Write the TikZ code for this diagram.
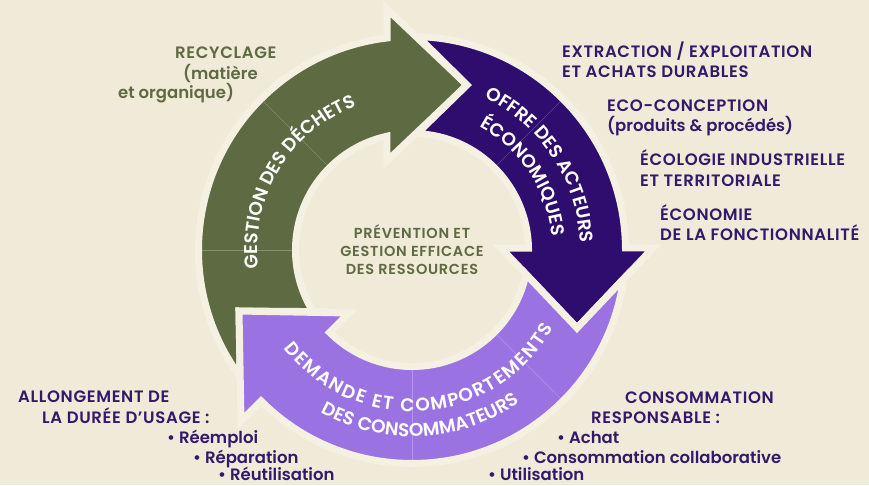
\documentclass[tikz,border=0pt]{standalone}
\usepackage{fontspec}
\setmainfont{Poppins}[BoldFont={Poppins SemiBold}]
\usetikzlibrary{decorations.text}

\definecolor{bg}{HTML}{EFEBD8}
\definecolor{gapcream}{HTML}{F4F1E2}
\definecolor{olive}{HTML}{5E6A42}
\definecolor{deeppurple}{HTML}{2E0D6E}
\definecolor{lilac}{HTML}{9B72E2}
\definecolor{inkpurple}{HTML}{33186B}

\newcommand\bandfont{\bfseries\fontsize{18.5}{18.5}\selectfont}

\tikzset{
  band/.style={draw=gapcream, line width=7pt, line join=miter},
  spoke/.style={white, opacity=.25, line width=.6pt},
  bandtext/.style={decorate, decoration={text along path, text align=center,
      text color=white, text={|\bandfont|#1}}},
  bandfit/.style={decorate, decoration={text along path, text align={fit to path},
      text color=white, text={|\bandfont|#1}}},
  labelcaps/.style={font=\bfseries\fontsize{16.5}{20}\selectfont\addfontfeature{LetterSpace=4}},
  labellow/.style={font=\bfseries\fontsize{16.5}{20}\selectfont},
}

\begin{document}
\begin{tikzpicture}[x=1pt,y=1pt]

  \fill[bg] (-412,-235) rectangle (457,250);
  \useasboundingbox (-412,-235) rectangle (457,250);

  % the three arrows of the cycle
  \filldraw[band, fill=olive] (-98.7,-61.6) -- (-173,-61) -- (216.4:213.5)
    arc[start angle=216.4, end angle=96.7, radius=213.5]
    -- (-25,241) -- (55,165) -- (-25,89) -- (102.4:116.5)
    arc[start angle=102.4, end angle=211.96, radius=116.5] -- cycle;

  \filldraw[band, fill=deeppurple] (88.4:213.5)
    arc[start angle=88.4, end angle=0.54, radius=213.5]
    -- (241,2) -- (165,-78) -- (89,2) -- (0.98:116.5)
    arc[start angle=0.98, end angle=87.5, radius=116.5] -- (55,165) -- cycle;

  \filldraw[band, fill=lilac] (-7.8:213.5) -- (165,-78) -- (-12:116.5)
    arc[start angle=-12, end angle=-135, radius=116.5]
    -- (-63,-63) -- (-173,-61) -- (-171,-171) -- (225:213.5)
    arc[start angle=225, end angle=352.2, radius=213.5] -- cycle;

  \foreach \a in {45,135,180,270,315}
    \draw[spoke] (\a:120) -- (\a:210);

  % texts on the arrows
  \path[bandtext=GESTION DES DÉCHETS] (200:154.5) arc[start angle=200, end angle=98, radius=154.5];
  \path[bandtext=OFFRE DES ACTEURS] (70:168.5) arc[start angle=70, end angle=-3, radius=168.5];
  \path[bandtext=ÉCONOMIQUES] (70:140.5) arc[start angle=70, end angle=-3, radius=140.5];
  \path[bandfit=DEMANDE ET COMPORTEMENTS] (217.5:161.5) arc[start angle=217.5, end angle=331, radius=161.5];
  \path[bandtext=DES CONSOMMATEURS] (203:186.5) arc[start angle=203, end angle=343, radius=186.5];

  \node[text=olive, align=center,
    font=\bfseries\fontsize{14.5}{18}\selectfont\addfontfeature{LetterSpace=5}] (prevention) at (0,0)
    {PRÉVENTION ET\\GESTION EFFICACE\\DES RESSOURCES};

  \begin{scope}[every node/.style={inner sep=0pt, anchor=base west}]
    \node[labelcaps, text=olive] (recyclage) at (-237,191.5) {RECYCLAGE};
    \node[labellow, text=olive] (matiere) at (-229,170.5) {(matière};
    \node[labellow, text=olive] (organique) at (-294,151.5) {et organique)};

    \node[labelcaps, text=inkpurple] (extraction) at (150,192.5) {EXTRACTION / EXPLOITATION};
    \node[labelcaps, text=inkpurple] (achats) at (150,172.5) {ET ACHATS DURABLES};
    \node[labelcaps, text=inkpurple] (ecoconception) at (195,138.5) {ECO-CONCEPTION};
    \node[labellow, text=inkpurple] (produits) at (195,118.5) {(produits \& procédés)};
    \node[labelcaps, text=inkpurple] (ecologie) at (228,84.5) {ÉCOLOGIE INDUSTRIELLE};
    \node[labelcaps, text=inkpurple] (territoriale) at (228,63.5) {ET TERRITORIALE};
    \node[labelcaps, text=inkpurple] (economie) at (248,29.5) {ÉCONOMIE};
    \node[labelcaps, text=inkpurple] (fonctionnalite) at (248,9.5) {DE LA FONCTIONNALITÉ};

    \node[labelcaps, text=inkpurple] (allongement) at (-394,-152.5) {ALLONGEMENT DE};
    \node[labelcaps, text=inkpurple] (duree) at (-370,-173.5) {LA DURÉE D’USAGE :};
    \node[labellow, text=inkpurple] (reemploi) at (-245,-193.5) {• Réemploi};
    \node[labellow, text=inkpurple] (reparation) at (-219,-213.5) {• Réparation};
    \node[labellow, text=inkpurple] (reutilisation) at (-194,-230) {• Réutilisation};

    \node[labelcaps, text=inkpurple] (consommation) at (213,-153.5) {CONSOMMATION};
    \node[labelcaps, text=inkpurple] (responsable) at (179,-173.5) {RESPONSABLE :};
    \node[labellow, text=inkpurple] (achat) at (145,-193.5) {• Achat};
    \node[labellow, text=inkpurple] (collaborative) at (110,-213.5) {• Consommation collaborative};
    \node[labellow, text=inkpurple] (utilisation) at (76,-230) {• Utilisation};
  \end{scope}

\end{tikzpicture}
\end{document}
